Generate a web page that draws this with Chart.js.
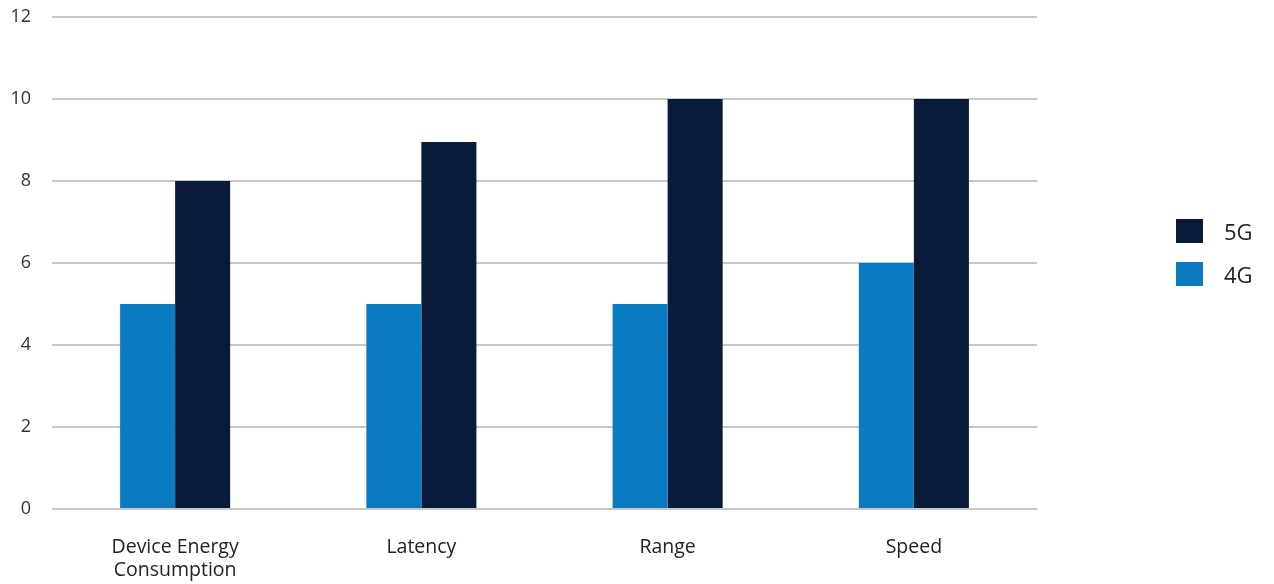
<!DOCTYPE html>
<html>
<head>
<meta charset="utf-8">
<script src="https://cdn.jsdelivr.net/npm/chart.js@4"></script>
<style>
  html, body { margin: 0; padding: 0; background: #fff; }
  #wrap { position: relative; width: 1274px; height: 584px; }
  #legend { position: absolute; left: 1176px; top: 219px; font-family: "Open Sans", sans-serif; font-size: 22px; color: #222; }
  .item { display: flex; align-items: center; height: 24px; margin-bottom: 19px; }
  .box { width: 27px; height: 24px; margin-right: 21px; flex: none; }
</style>
</head>
<body>
<div id="wrap">
  <canvas id="c" width="1274" height="584"></canvas>
  <div id="legend"></div>
</div>
<script>
const categories = [["Device Energy", "Consumption"], "Latency", "Range", "Speed"];
const series4G = [5, 5, 5, 6];
const series5G = [8, 8.95, 10, 10];
const seriesNames = ["4G", "5G"];
const seriesColors = ["#0b7bc1", "#0a1b39"];
const yTicks = [0, 2, 4, 6, 8, 10, 12];

const fontFamily = '"Open Sans", sans-serif';

const chart = new Chart(document.getElementById('c'), {
  type: 'bar',
  data: {
    labels: categories,
    datasets: [
      { label: seriesNames[0], data: series4G, backgroundColor: seriesColors[0], barPercentage: 1, categoryPercentage: 0.447 },
      { label: seriesNames[1], data: series5G, backgroundColor: seriesColors[1], barPercentage: 1, categoryPercentage: 0.447 }
    ]
  },
  options: {
    responsive: false,
    animation: false,
    devicePixelRatio: 1,
    layout: { padding: { top: 17, right: 237, left: 0, bottom: 0 } },
    plugins: { legend: { display: false }, tooltip: { enabled: false } },
    scales: {
      x: {
        afterFit: (scale) => { scale.height = 75; },
        grid: { display: false, drawTicks: false },
        border: { display: false },
        ticks: { color: '#222', font: { family: fontFamily, size: 19.5, lineHeight: 1.18 }, padding: 27, maxRotation: 0, autoSkip: false }
      },
      y: {
        min: yTicks[0],
        max: yTicks[yTicks.length - 1],
        afterBuildTicks: (scale) => { scale.ticks = yTicks.map(v => ({ value: v })); },
        afterFit: (scale) => { scale.width = 52; scale.paddingTop = 0; scale.paddingBottom = 0; },
        grid: { color: '#c8c8c8', lineWidth: 2, drawTicks: false },
        border: { display: false },
        ticks: { color: '#333', font: { family: fontFamily, size: 18 }, padding: 21 }
      }
    }
  }
});

const legend = document.getElementById('legend');
chart.data.datasets.slice().reverse().forEach(ds => {
  const it = document.createElement('div');
  it.className = 'item';
  const b = document.createElement('div');
  b.className = 'box';
  b.style.background = ds.backgroundColor;
  const t = document.createElement('span');
  t.textContent = ds.label;
  it.appendChild(b); it.appendChild(t);
  legend.appendChild(it);
});
</script>
</body>
</html>
